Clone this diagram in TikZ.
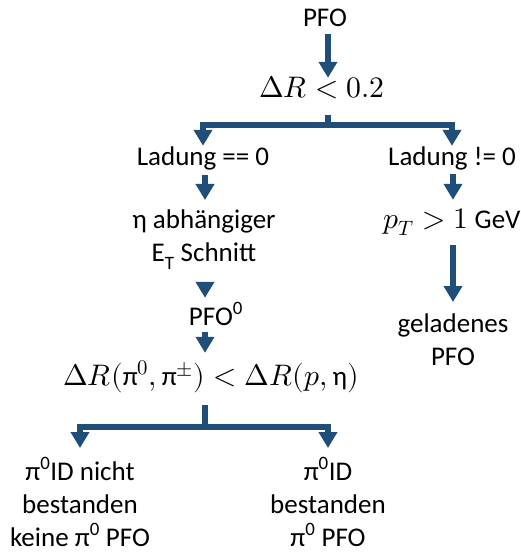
\documentclass[tikz,border=0pt]{standalone}
\usepackage{amsmath}
\usepackage{unicode-math}
\setmainfont{Carlito}
\setmathfont{Latin Modern Math}[Scale=1.1]
\usetikzlibrary{arrows.meta}
\definecolor{pfoblue}{RGB}{31,78,121}

\begin{document}
\begin{tikzpicture}[x=1pt, y=-1pt,
    every node/.style={font=\fontsize{27}{33}\selectfont, inner sep=1pt},
    line/.style={text height=19pt, text depth=6pt, anchor=base},
    stack/.style={align=center, anchor=north},
    stem/.style={draw=pfoblue, line width=6pt, line join=miter},
    flow/.style={stem, -{Triangle[width=18pt,length=16pt]}}]
    \useasboundingbox (0,0) rectangle (520,553);

    % columns the arrows run along
    \coordinate (mitte) at (328,0);
    \coordinate (links) at (205,0);
    \coordinate (rechts) at (453,0);

    \node[line] (pfo) at (325,27) {PFO};
    \node[line] (dr) at (322,98) {$\Delta R < 0.2$};
    \node[line] (ladnull) at (203,166) {Ladung == 0};
    \node[line] (ladnicht) at (452,166) {Ladung != 0};
    \node[stack] (eta) at (204,209) {η abhängiger\\E\textsubscript{T} Schnitt};
    \node[line] (pt) at (452,228) {$p_T > 1$ GeV};
    \node[stack] (geladen) at (453,313) {geladenes\\PFO};
    \node[line] (pfonull) at (216,325) {PFO\textsuperscript{0}};
    \node[line] (drpi) at (211,385) {$\Delta R(\text{π}^0,\text{π}^{\pm}) < \Delta R(p,\text{η})$};
    \node[stack] (nichtbest) at (80,456) {π\textsuperscript{0}ID nicht\\bestanden\\keine π\textsuperscript{0} PFO};
    \node[stack] (best) at (328,456) {π\textsuperscript{0}ID\\bestanden\\π\textsuperscript{0} PFO};

    \draw[flow] (mitte |- pfo.south) -- (mitte |- dr.north);

    % first split by charge
    \path (mitte |- dr.south) ++(0,10) coordinate (s1) ++(0,10) coordinate (hub1);
    \draw[stem] (s1) -- (hub1);
    \draw[flow] (hub1) -| (ladnull);
    \draw[flow] (hub1) -| (ladnicht);

    \draw[flow, shorten <=2pt, shorten >=9pt] (links |- ladnull.south) -- (links |- eta.north);
    \draw[flow, shorten <=17pt, shorten >=7pt] (links |- eta.south) -- (links |- pfonull.north);
    \draw[flow, shorten >=12pt] (links |- pfonull.south) -- (links |- drpi.north);
    \draw[flow, shorten <=1pt, shorten >=8pt] (rechts |- ladnicht.south) -- (rechts |- pt.north);
    \draw[flow, shorten <=10pt, shorten >=11pt] (rechts |- pt.south) -- (rechts |- geladen.north);

    % second split: pi0 identification
    \path (links |- drpi.south) ++(0,13) coordinate (s2) ++(0,22) coordinate (hub2);
    \draw[stem] (s2) -- (hub2);
    \draw[flow] (hub2) -| ([yshift=8pt]nichtbest.north);
    \draw[flow] (hub2) -| ([yshift=8pt]best.north);
\end{tikzpicture}
\end{document}
